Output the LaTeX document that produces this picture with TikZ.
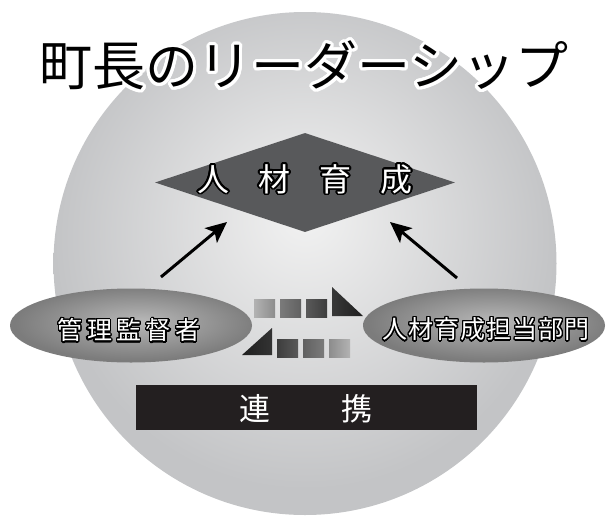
\documentclass[tikz,border=0pt]{standalone}
\usepackage{fontspec}
\newfontfamily\jp{Noto Sans CJK JP}
\usepackage[copies]{contour}
\contournumber{32}
\usetikzlibrary{shapes.geometric,arrows.meta}
\definecolor{circin}{HTML}{F2F2F2}
\definecolor{circout}{HTML}{C3C4C6}
\definecolor{ellin}{HTML}{B8B8B8}
\definecolor{ellout}{HTML}{7C7C7C}
\definecolor{diacol}{HTML}{58595B}
\definecolor{barcol}{HTML}{231F20}
\pgfdeclareradialshading{circshade}{\pgfpoint{0bp}{5bp}}{color(0bp)=(circin); color(25bp)=(circout); color(50bp)=(circout)}
\pgfdeclareradialshading{ellshade}{\pgfpoint{2bp}{3bp}}{color(0bp)=(ellin); color(25bp)=(ellout); color(50bp)=(ellout)}
\tikzset{
  ellbox/.style={shape=ellipse, minimum width=242pt, minimum height=74pt, inner sep=0pt, shading=ellshade},
  elltext/.style={text=white, font=\jp\fontsize{25}{25}\selectfont, inner sep=0pt},
  arr/.style={line width=3pt, -{Stealth[length=21pt,width=19pt,inset=5pt]}},
}
\begin{document}
\begin{tikzpicture}[x=1pt,y=-1pt]
\useasboundingbox (0,0) rectangle (606,517);
% big circle
\node[circle, minimum size=503pt, inner sep=0pt, shading=circshade] (bg) at (305,263.5) {};
% title
\node[inner sep=0pt, font=\jp\fontsize{53}{53}\selectfont] (title) at (304,67)
  {\contourlength{3pt}\contour{white}{町長のリーダーシップ}};
% diamond
\node[shape=diamond, minimum width=300pt, minimum height=99pt, inner sep=0pt, fill=diacol] (dia) at (305,182.5) {};
\node[inner sep=0pt, text=white, font=\jp\fontsize{32}{32}\selectfont] (diat) at (305,180)
  {\contourlength{1.6pt}\contour{black}{人\hspace{29pt}材\hspace{29pt}育\hspace{29pt}成}};
% ellipses
\node[ellbox] (e1) at (131,325.5) {};
\node[elltext] (e1t) at (129,331)
  {\contourlength{1.3pt}\contour{black}{管\hspace{4.5pt}理\hspace{4.5pt}監\hspace{4.5pt}督\hspace{4.5pt}者}};
\node[ellbox] (e2) at (484,325.5) {};
\node[elltext] (e2t) at (486,330)
  {\contourlength{1.3pt}\contour{black}{人\hspace{1pt}材\hspace{1pt}育\hspace{1pt}成\hspace{1pt}担\hspace{1pt}当\hspace{1pt}部\hspace{1pt}門}};
% arrows
\coordinate (a1s) at (161,277);
\coordinate (a1t) at (227,222);
\coordinate (a2s) at (457,278);
\coordinate (a2t) at (390,222);
\draw[arr] (a1s) -- (a1t);
\draw[arr] (a2s) -- (a2t);
% blocks top row
\shade[left color=black!30, right color=black!45] (254,299) rectangle (275,317);
\shade[left color=black!52, right color=black!62] (280,299) rectangle (301,317);
\shade[left color=black!65, right color=black!76] (306,299) rectangle (327,317);
\shade[left color=black!78, right color=black!88] (332,287) -- (332,316) -- (363,316) -- cycle;
% blocks bottom row
\shade[left color=black!88, right color=black!80] (242,355) -- (272,328) -- (272,355) -- cycle;
\shade[left color=black!76, right color=black!65] (277,339) rectangle (298,357);
\shade[left color=black!62, right color=black!52] (303,339) rectangle (324,357);
\shade[left color=black!45, right color=black!30] (329,339) rectangle (350,357);
% bar
\node[fill=barcol, minimum width=341pt, minimum height=45pt, inner sep=0pt] (bar) at (306.5,407.5) {};
\node[inner sep=0pt, text=white, font=\jp\fontsize{31}{31}\selectfont] (bart) at (306,409) {連\hspace{71pt}携};
\end{tikzpicture}
\end{document}
